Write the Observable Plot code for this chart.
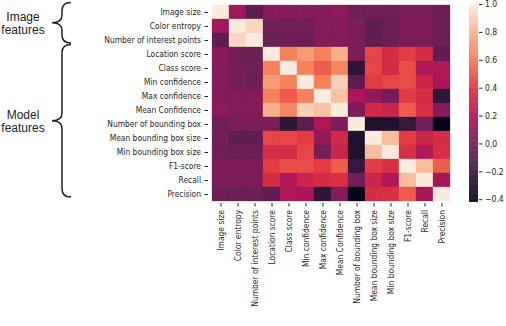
<!DOCTYPE html>
<html><head><meta charset="utf-8">
<script src="https://cdn.jsdelivr.net/npm/d3@7"></script>
<script src="https://cdn.jsdelivr.net/npm/@observablehq/plot@0.6"></script>
<style>
body{margin:0;background:#fff;}
#wrap{position:relative;width:506px;height:326px;overflow:hidden;}
#wrap svg{position:absolute;top:0;}
</style></head><body><div id="wrap"></div>
<script>
const features = ["Image size","Color entropy","Number of interest points","Location score","Class score","Min confidence","Max confidence","Mean Confidence","Number of bounding box","Mean bounding box size","Min bounding box size","F1-score","Recall","Precision"];
const groupNames = [["Image","features"],["Model","features"]];
const groupFirst = ["Image size","Location score"];
const groupLast = ["Number of interest points","Precision"];
const corr = [
 [1.00, 0.15,-0.08, 0.07, 0.05, 0.05, 0.05, 0.08,-0.02, 0.00,-0.02, 0.03, 0.03,-0.03],
 [0.15, 1.00, 0.92,-0.02, 0.00, 0.00, 0.05, 0.05, 0.02,-0.07,-0.03, 0.03, 0.03,-0.03],
 [-0.08,0.92, 1.00,-0.03,-0.02,-0.03, 0.05, 0.05, 0.02,-0.07,-0.03, 0.03, 0.03,-0.03],
 [0.07,-0.02,-0.03, 1.00, 0.63, 0.72, 0.63, 0.78, 0.03, 0.45, 0.35, 0.42, 0.35,-0.07],
 [0.05, 0.00,-0.02, 0.63, 1.00, 0.63, 0.52, 0.65,-0.25, 0.45, 0.34, 0.47, 0.20, 0.20],
 [0.05, 0.00,-0.03, 0.72, 0.63, 1.00, 0.63, 0.90,-0.08, 0.42, 0.45, 0.47, 0.30, 0.18],
 [0.05, 0.05, 0.05, 0.63, 0.52, 0.63, 1.00, 0.85, 0.19, 0.10, 0.00, 0.42, 0.35,-0.25],
 [0.08, 0.05, 0.05, 0.78, 0.65, 0.90, 0.85, 1.00, 0.03, 0.33, 0.30, 0.52, 0.36, 0.05],
 [-0.02,0.02, 0.02, 0.03,-0.25,-0.08, 0.19, 0.03, 1.00,-0.30,-0.30,-0.22,-0.01,-0.42],
 [0.00,-0.07,-0.07, 0.45, 0.45, 0.42, 0.10, 0.33,-0.30, 1.00, 0.83, 0.42, 0.30, 0.35],
 [-0.02,-0.03,-0.03,0.35, 0.34, 0.45, 0.00, 0.30,-0.30, 0.83, 1.00, 0.36, 0.20, 0.36],
 [0.03, 0.03, 0.03, 0.42, 0.47, 0.47, 0.42, 0.52,-0.22, 0.42, 0.36, 1.00, 0.83, 0.52],
 [0.03, 0.03, 0.03, 0.35, 0.20, 0.30, 0.35, 0.36,-0.01, 0.30, 0.20, 0.83, 1.00, 0.18],
 [-0.03,-0.03,-0.03,-0.07,0.20, 0.18,-0.25, 0.05,-0.42, 0.35, 0.36, 0.52, 0.18, 1.00]
];
const colorTicks = [-0.4,-0.2,0.0,0.2,0.4,0.6,0.8,1.0];
const vmin = -0.42, vmax = 1.0;
const rocket = ["#03051A","#35193E","#701F57","#AD1759","#E13342","#F37651","#F6B48F","#FAEBDD"];

const colorDomain = rocket.map((_, i) => vmin + i * (vmax - vmin) / (rocket.length - 1));
const colorOpts = {type: "linear", domain: colorDomain, range: rocket, clamp: true};
const cells = features.flatMap((r, i) => features.map((c, j) => ({row: r, col: c, v: corr[i][j]})));
const ink = "#262626";
const font = "'DejaVu Sans Condensed', 'DejaVu Sans', sans-serif";

const main = Plot.plot({
  width: 506, height: 326,
  marginLeft: 208, marginRight: 53, marginTop: 3, marginBottom: 123,
  style: {fontFamily: font, fontSize: "8.4px", color: ink, background: "transparent"},
  x: {domain: features, padding: 0, tickRotate: -90, tickSize: 3.5, tickPadding: 3, label: null},
  y: {domain: features, padding: 0, tickSize: 3.5, tickPadding: 4, label: null},
  color: colorOpts,
  marks: [
    Plot.cell(cells, {x: "col", y: "row", fill: "v", inset: 0, stroke: "v", strokeWidth: 0.3})
  ]
});
document.getElementById("wrap").appendChild(main);

// braces + group labels, positioned from the y scale
const ys = main.scale("y");
const svg = d3.select(main);
groupNames.forEach((lines, g) => {
  const y0 = ys.apply(groupFirst[g]) - 2.5;
  const y1 = ys.apply(groupLast[g]) + ys.bandwidth - 4;
  const ym = (y0 + y1) / 2;
  const xe = 71, xs = 62, xt = 52, r = 8;
  const p = `M${xe},${y0} Q${xs},${y0} ${xs},${y0 + r} L${xs},${ym - r} Q${xs},${ym} ${xt},${ym} Q${xs},${ym} ${xs},${ym + r} L${xs},${y1 - r} Q${xs},${y1} ${xe},${y1}`;
  svg.append("path").attr("d", p).attr("fill", "none").attr("stroke", "#222").attr("stroke-width", 1.5);
  lines.forEach((t, k) => {
    svg.append("text").attr("x", 23).attr("y", ym - 2 + k * 13.5)
      .attr("text-anchor", "middle").attr("font-family", "Liberation Sans")
      .attr("font-size", "12px").attr("fill", "#222").text(t);
  });
});

// colorbar
const step = 0.004;
const steps = d3.range(vmin, vmax, step);
const bar = Plot.plot({
  width: 66, height: 326,
  marginLeft: 29, marginRight: 28, marginTop: 4, marginBottom: 124,
  style: {fontFamily: font, fontSize: "8.6px", color: ink, background: "transparent"},
  x: {domain: [0, 1], axis: null},
  y: {domain: [vmin, vmax], axis: "right", ticks: colorTicks, tickFormat: d3.format(".1f"), tickSize: 3.5, tickPadding: 3, label: null},
  color: colorOpts,
  marks: [
    Plot.rect(steps, {x1: 0, x2: 1, y1: d => d, y2: d => Math.min(vmax, d + step * 1.5), fill: d => d})
  ]
});
bar.style.left = "440px";
document.getElementById("wrap").appendChild(bar);
</script></body></html>
